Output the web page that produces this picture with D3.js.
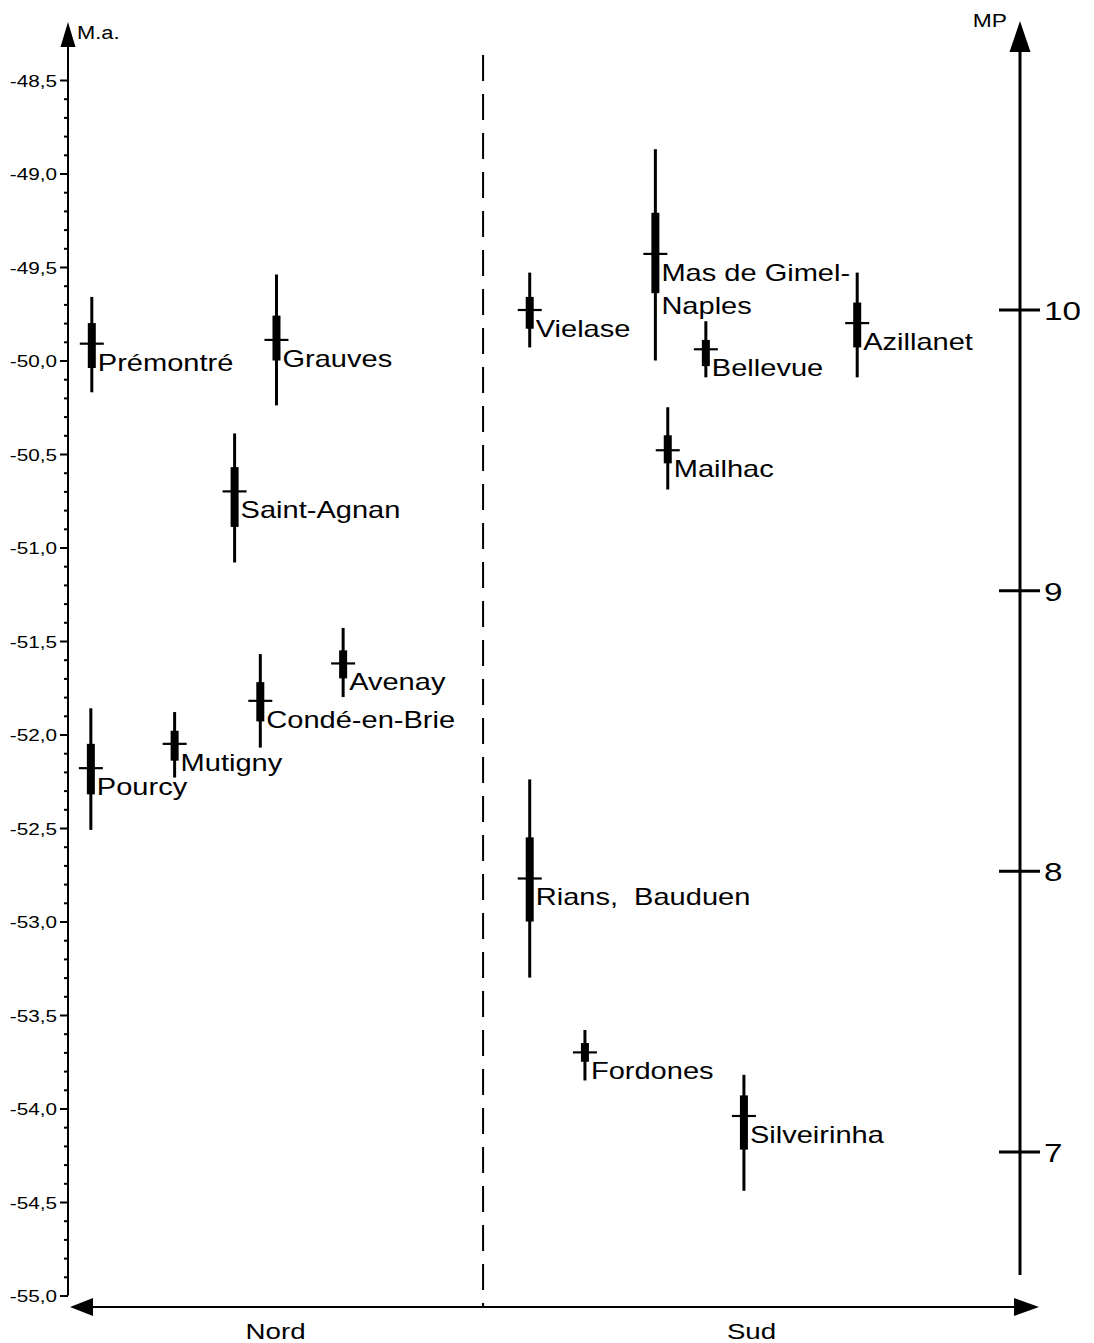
<!DOCTYPE html>
<html>
<head>
<meta charset="utf-8">
<script src="https://cdn.jsdelivr.net/npm/d3@7"></script>
<style>
  body { margin: 0; background: #fff; }
  text { font-family: "Liberation Sans", Arial, Helvetica, sans-serif; fill: #000; }
</style>
</head>
<body>
<script>
// Dated sites: horizontal slot (0–100 across the panel), central age and age ranges (Ma)
const sites = ["Prémontré", "Grauves", "Saint-Agnan", "Pourcy", "Mutigny", "Condé-en-Brie", "Avenay",
  "Vielase", "Mas de Gimel-\nNaples", "Bellevue", "Azillanet", "Mailhac", "Rians,  Bauduen", "Fordones", "Silveirinha"];
const slots = [2.5, 21.9, 17.5, 2.4, 11.2, 20.2, 28.9, 48.5, 61.7, 67.0, 82.9, 63.0, 48.5, 54.3, 71.0];
const ages = [-49.91, -49.89, -50.70, -52.18, -52.05, -51.82, -51.62,
  -49.73, -49.43, -49.94, -49.80, -50.48, -52.77, -53.70, -54.04];
// wide range (thin bar)
const outerYoung = [-49.66, -49.54, -50.39, -51.86, -51.88, -51.57, -51.43,
  -49.53, -48.87, -49.79, -49.53, -50.25, -52.24, -53.58, -53.82];
const outerOld = [-50.17, -50.24, -51.08, -52.51, -52.23, -52.07, -51.80,
  -49.93, -50.00, -50.09, -50.09, -50.69, -53.30, -53.85, -54.44];
// narrow range (thick bar)
const innerYoung = [-49.80, -49.76, -50.57, -52.05, -51.98, -51.72, -51.55,
  -49.66, -49.21, -49.89, -49.69, -50.40, -52.55, -53.65, -53.93];
const innerOld = [-50.04, -50.00, -50.89, -52.32, -52.14, -51.93, -51.70,
  -49.83, -49.64, -50.03, -49.93, -50.55, -53.00, -53.75, -54.22];

// Axes
const maTicks = [-48.5, -49.0, -49.5, -50.0, -50.5, -51.0, -51.5, -52.0, -52.5, -53.0, -53.5, -54.0, -54.5, -55.0];
const mpTicks = [7, 8, 9, 10];
const regions = ["Nord", "Sud"];
const dividerSlot = 43.6;

const W = 1094, H = 1343;

const svg = d3.select("body").append("svg").attr("width", W).attr("height", H);

const x = d3.scaleLinear().domain([0, 100]).range([68, 1020]);
const yMa = d3.scaleLinear().domain([-48.5, -55.0]).range([80, 1295.5]);
const yMP = d3.scaleLinear().domain([10, 7]).range([310, 1152]);

// lettering is slightly wide: each text gets its own horizontal stretch
function stretchedText(g, px, py, str, size, sx, anchor) {
  return g.append("text")
    .attr("transform", `translate(${px},${py}) scale(${sx},1)`)
    .attr("font-size", size)
    .attr("text-anchor", anchor || "start")
    .text(str);
}

// ---- left axis (Ma) ----
const axisX = x(0);
const minorTicks = d3.range(-485, -551, -1).map(v => v / 10).filter(v => Math.round(v * 10) % 5 !== 0);
const fmt = d => d.toFixed(1).replace(".", ",");
const tickSX = 1.22;

const gMinor = svg.append("g").attr("transform", `translate(${axisX},0)`)
  .call(d3.axisLeft(yMa).tickValues(minorTicks).tickSize(4).tickFormat(""));
gMinor.select(".domain").remove();
gMinor.selectAll("line").attr("stroke-width", 2);

const gMajor = svg.append("g").attr("transform", `translate(${axisX},0)`)
  .call(d3.axisLeft(yMa).tickValues(maTicks).tickSize(8).tickFormat(fmt));
gMajor.select(".domain").remove();
gMajor.selectAll("line").attr("stroke-width", 2);
gMajor.selectAll("text")
  .attr("x", -11 / tickSX)
  .attr("dy", "0.36em")
  .attr("transform", `scale(${tickSX},1)`)
  .attr("font-size", 17)
  .style("font-family", '"Liberation Sans", Arial, sans-serif');

svg.append("line").attr("x1", axisX).attr("x2", axisX)
  .attr("y1", 44).attr("y2", yMa(-55.0))
  .attr("stroke", "#000").attr("stroke-width", 2);
svg.append("path")
  .attr("d", `M${axisX},22 L${axisX - 7.5},47 L${axisX + 7.5},47 Z`)
  .attr("fill", "#000");
stretchedText(svg, axisX + 9, 39, "M.a.", 19, 1.15);

// ---- right axis (MP) ----
const rX = x(100);
svg.append("line").attr("x1", rX).attr("x2", rX)
  .attr("y1", 48).attr("y2", 1275)
  .attr("stroke", "#000").attr("stroke-width", 3);
svg.append("path")
  .attr("d", `M${rX},21 L${rX - 10.5},52 L${rX + 10.5},52 Z`)
  .attr("fill", "#000");
stretchedText(svg, rX - 13, 27, "MP", 19, 1.2, "end");

const gMP = svg.append("g");
gMP.selectAll("line.mp").data(mpTicks).join("line")
  .attr("class", "mp")
  .attr("x1", rX - 21).attr("x2", rX + 20)
  .attr("y1", d => yMP(d)).attr("y2", d => yMP(d))
  .attr("stroke", "#000").attr("stroke-width", 3);
mpTicks.forEach(d => {
  stretchedText(gMP, rX + 24, yMP(d) + 10, String(d), 26, 1.28);
});

// ---- bottom axis (Nord / Sud) ----
const baseY = 1307;
svg.append("line").attr("x1", 90).attr("x2", 1016)
  .attr("y1", baseY).attr("y2", baseY)
  .attr("stroke", "#000").attr("stroke-width", 2);
svg.append("path").attr("d", `M70,${baseY} L93,${baseY - 9} L93,${baseY + 9} Z`).attr("fill", "#000");
svg.append("path").attr("d", `M1039,${baseY} L1014,${baseY - 9} L1014,${baseY + 9} Z`).attr("fill", "#000");

const divX = x(dividerSlot);
svg.append("line").attr("x1", divX).attr("x2", divX)
  .attr("y1", 55).attr("y2", baseY)
  .attr("stroke", "#000").attr("stroke-width", 2)
  .attr("stroke-dasharray", "26,13");

const regionCenters = [(axisX + divX) / 2, (divX + rX) / 2];
regions.forEach((r, i) => stretchedText(svg, regionCenters[i], 1339, r, 22, 1.26, "middle"));

// ---- age markers ----
const g = svg.append("g");
const labelSX = 1.21;
sites.forEach((name, i) => {
  const cx = x(slots[i]);
  g.append("rect")
    .attr("x", cx - 1.5).attr("width", 3)
    .attr("y", yMa(outerYoung[i])).attr("height", yMa(outerOld[i]) - yMa(outerYoung[i]))
    .attr("fill", "#000");
  g.append("rect")
    .attr("x", cx - 4).attr("width", 8)
    .attr("y", yMa(innerYoung[i])).attr("height", yMa(innerOld[i]) - yMa(innerYoung[i]))
    .attr("fill", "#000");
  g.append("line")
    .attr("x1", cx - 12).attr("x2", cx + 12)
    .attr("y1", yMa(ages[i])).attr("y2", yMa(ages[i]))
    .attr("stroke", "#000").attr("stroke-width", 2.2);

  const t = g.append("text")
    .attr("transform", `translate(${cx + 6},${yMa(ages[i]) + 27}) scale(${labelSX},1)`)
    .attr("font-size", 24)
    .attr("xml:space", "preserve")
    .style("white-space", "pre");
  name.split("\n").forEach((line, k) => {
    t.append("tspan").attr("x", 0).attr("dy", k === 0 ? 0 : "1.4em").text(line);
  });
});
</script>
</body>
</html>
